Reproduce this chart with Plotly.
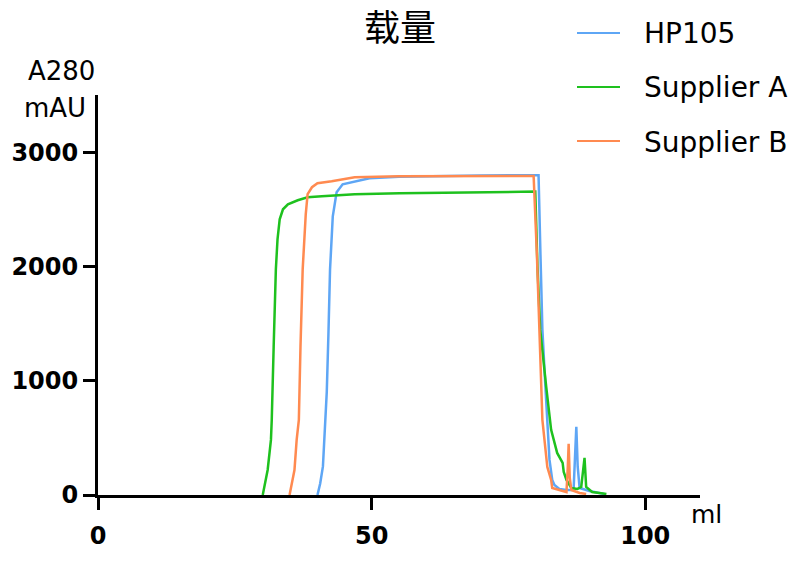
import plotly.graph_objects as go

# ---- data ----
hp105_ml = [40.1, 40.6, 41.1, 41.4, 41.8, 42.1, 42.4, 42.9, 43.6, 44.7, 47.3, 49.6, 55, 60, 70, 78,
            80.5, 80.85, 81.2, 81.75, 82.5, 83.0, 83.4, 84.3, 85.6, 86.9, 87.15, 87.4, 87.65, 88.0,
            89.8, 91.6, 92.5]
hp105_mau = [0, 100, 250, 500, 900, 1400, 1974, 2439, 2649, 2719, 2746, 2772, 2785, 2790, 2795, 2798,
             2798, 2100, 1447, 947, 307, 132, 88, 53, 44, 44, 300, 596, 250, 61,
             35, 18, 9]

supA_ml = [30.1, 31.0, 31.6, 31.75, 32.1, 32.5, 32.8, 33.2, 33.8, 34.7, 36.5, 38.3, 40.9, 46.9, 55.1,
           65, 73.4, 79.9, 80.3, 80.8, 81.9, 82.8, 83.9, 84.9, 85.1, 85.6, 86.5, 87.6, 88.3, 88.6,
           88.9, 89.2, 90.3, 92.9]
supA_mau = [0, 219, 482, 658, 1300, 1974, 2237, 2412, 2500, 2544, 2579, 2605, 2614, 2632, 2640,
            2645, 2649, 2655, 2000, 1447, 947, 570, 368, 281, 202, 132, 61, 53, 70, 200,
            325, 70, 26, 9]

supB_ml = [35.0, 35.9, 36.3, 36.7, 37.0, 37.4, 37.96, 38.3, 39.1, 40.1, 42.7, 46.9, 55, 65, 75,
           79.6, 80.2, 80.7, 81.2, 82.1, 82.8, 83.0, 84.3, 85.6, 85.85, 86.0, 86.2, 86.5, 88.0, 89.2]
supB_mau = [0, 219, 482, 658, 1300, 1974, 2456, 2632, 2693, 2728, 2746, 2781, 2788, 2790, 2792,
            2792, 2100, 1447, 658, 246, 132, 61, 44, 26, 250, 447, 150, 44, 18, 9]

series_names = ["HP105", "Supplier A", "Supplier B"]
series_colors = ["#5ea6f5", "#1ec11e", "#ff8a50"]
x_ticks = [0, 50, 100]
y_ticks = [0, 1000, 2000, 3000]
title_text = "载量"
y_label_lines = ["A280", "mAU"]
x_label = "ml"

# ---- layout geometry (screen pixels; page body margin removed below) ----
W, H = 809, 562
L, R, T, B = 98, 700, 95, 495  # plot area


def px(xp):
    return (xp - L) / (R - L)


def py(yp):
    return (B - yp) / (B - T)


fig = go.Figure()
for xs, ys, name, col in zip([hp105_ml, supA_ml, supB_ml],
                             [hp105_mau, supA_mau, supB_mau],
                             series_names, series_colors):
    fig.add_trace(go.Scatter(x=xs, y=ys, mode="lines", name=name,
                             line=dict(color=col, width=2.5), showlegend=False))

tickfont = dict(family="DejaVu Sans", size=24, color="black", weight="bold")
fig.update_layout(
    width=W, height=H,
    margin=dict(l=L, r=W - R, t=T, b=H - B, pad=0),
    plot_bgcolor="white", paper_bgcolor="white",
    title=dict(text=title_text, x=400 / W, xanchor="center",
               y=1 - 28 / H, yanchor="middle", yref="container", xref="container",
               font=dict(family="Noto Sans CJK SC", size=36, color="black")),
    xaxis=dict(range=[0, 110], tickvals=x_ticks, ticktext=[str(v) for v in x_ticks],
               showgrid=False, zeroline=False, showline=True, linecolor="black", linewidth=3,
               ticks="outside", ticklen=12, tickwidth=3, tickcolor="black",
               tickfont=tickfont, ticklabelstandoff=5),
    yaxis=dict(range=[0, 3500], tickvals=y_ticks, ticktext=[str(v) for v in y_ticks],
               showgrid=False, zeroline=False, showline=True, linecolor="black", linewidth=3,
               ticks="outside", ticklen=12, tickwidth=3, tickcolor="black",
               tickfont=tickfont, ticklabelstandoff=0),
    showlegend=False,
)

annots = []
# axis labels
annots.append(dict(text=y_label_lines[0], x=px(61), y=py(71), xref="paper", yref="paper",
                   xanchor="center", yanchor="middle", showarrow=False,
                   font=dict(family="DejaVu Sans", size=26, color="black")))
annots.append(dict(text=y_label_lines[1], x=px(55), y=py(108), xref="paper", yref="paper",
                   xanchor="center", yanchor="middle", showarrow=False,
                   font=dict(family="DejaVu Sans", size=26, color="black")))
annots.append(dict(text=x_label, x=px(689), y=py(514), xref="paper", yref="paper",
                   xanchor="left", yanchor="middle", showarrow=False,
                   font=dict(family="DejaVu Sans", size=25, color="black")))

# legend (drawn manually to match the reference placement)
shapes = []
leg_y = [33, 87, 141]
for name, col, ly in zip(series_names, series_colors, leg_y):
    shapes.append(dict(type="line", xref="paper", yref="paper",
                       x0=px(577), x1=px(620), y0=py(ly), y1=py(ly),
                       line=dict(color=col, width=2)))
    annots.append(dict(text=name, x=px(642), y=py(ly + 1), xref="paper", yref="paper",
                       xanchor="left", yanchor="middle", showarrow=False,
                       font=dict(family="DejaVu Sans", size=28, color="black")))

fig.update_layout(annotations=annots, shapes=shapes)
fig.write_html(
    "out.html",
    config={"displayModeBar": False},
    post_script="document.body.style.margin='0px';"
                "document.documentElement.style.overflow='hidden';",
)
